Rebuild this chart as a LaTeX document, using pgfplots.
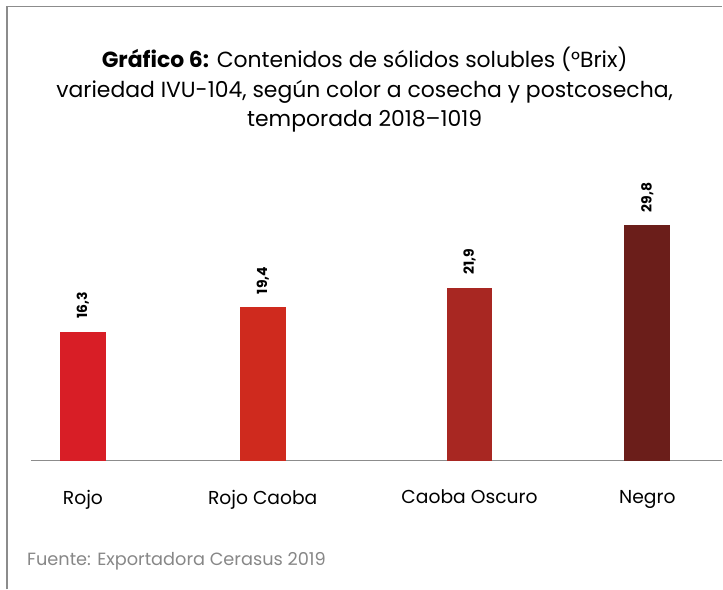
\documentclass[border=0pt]{standalone}
\usepackage{fontspec}
\setmainfont{Poppins}
\usepackage{pgfplots}
\pgfplotsset{compat=1.18}
\definecolor{cRojo}{RGB}{216,30,38}
\definecolor{cRojoCaoba}{RGB}{207,42,30}
\definecolor{cCaobaOscuro}{RGB}{168,39,34}
\definecolor{cNegro}{RGB}{107,30,26}
\definecolor{frameGray}{RGB}{140,140,140}
\definecolor{srcGray}{RGB}{135,135,135}
\begin{document}
\begin{tikzpicture}
\path (0bp,0bp) rectangle (723bp,590bp);
\draw[color=frameGray, line width=1.2bp] (7bp,0bp) -- (7bp,583.5bp) -- (723bp,583.5bp);
\tikzset{ttl/.style={anchor=base, font=\fontsize{22}{26}\selectfont, inner sep=0pt}}
\node[ttl] at (365bp,522bp) {\textbf{Gráfico 6:} Contenidos de sólidos solubles (°Brix)};
\node[ttl] at (365bp,492bp) {variedad IVU-104, según color a cosecha y postcosecha,};
\node[ttl] at (365bp,463bp) {temporada 2018–1019};
\node[anchor=west, font=\fontsize{17.8}{20}\selectfont, text=srcGray, inner sep=0pt] at (27bp,28bp) {Fuente: Exportadora Cerasus 2019};
\begin{axis}[
  at={(31bp,129bp)}, anchor=south west,
  scale only axis, width=692bp, height=237bp,
  xmin=31, xmax=723, ymin=0, ymax=30,
  axis x line=bottom, axis y line=none,
  axis line style={draw=frameGray, line width=1.5bp, -},
  xtick={83,263,470,648},
  xticklabels={Rojo, Rojo Caoba, Caoba Oscuro, Negro},
  xticklabel style={font=\fontsize{18.8}{20}\selectfont, yshift=-26bp},
  major tick length=0pt,
  ybar, bar width=46bp, bar shift=0pt,
  point meta=explicit symbolic,
  nodes near coords,
  every node near coord/.append style={rotate=90, anchor=west, font=\bfseries\fontsize{14}{15}\selectfont, inner xsep=13bp, inner ysep=0pt, text=black},
  clip=false,
]
\addplot[fill=cRojo, draw=none] coordinates {(83,16.3) [16,3]};
\addplot[fill=cRojoCaoba, draw=none] coordinates {(263,19.4) [19,4]};
\addplot[fill=cCaobaOscuro, draw=none] coordinates {(470,21.9) [21,9]};
\addplot[fill=cNegro, draw=none] coordinates {(648,29.8) [29,8]};
\end{axis}
\end{tikzpicture}
\end{document}
